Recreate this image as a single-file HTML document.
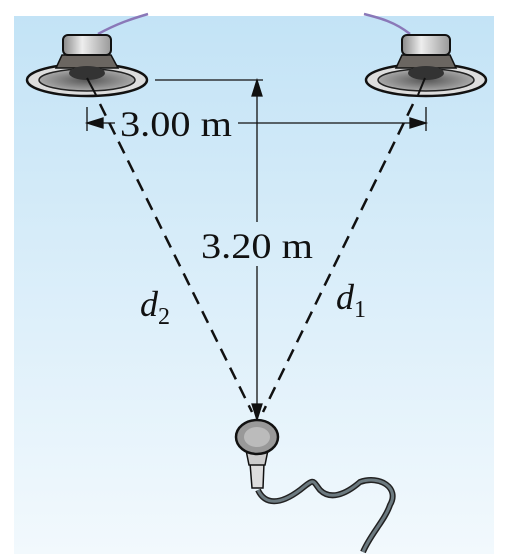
<!DOCTYPE html>
<html><head><meta charset="utf-8"><style>
html,body{margin:0;padding:0;background:#fff;width:514px;height:554px;overflow:hidden}
</style></head><body>
<svg width="514" height="554" viewBox="0 0 514 554" font-family="Liberation Serif, serif">
<defs>
<linearGradient id="bg" x1="0" y1="0" x2="0" y2="1"><stop offset="0" stop-color="#c3e3f6"/><stop offset="1" stop-color="#f2f9fd"/></linearGradient>
<linearGradient id="cap" x1="0" y1="0" x2="1" y2="0"><stop offset="0" stop-color="#888"/><stop offset="0.4" stop-color="#eee"/><stop offset="1" stop-color="#999"/></linearGradient>
<radialGradient id="cone"><stop offset="0" stop-color="#555"/><stop offset="1" stop-color="#a9a9a9"/></radialGradient>
</defs>
<rect x="14" y="16" width="480" height="538" fill="url(#bg)"/>
<g>
<path d="M98 34 C120 22 135 18 148 14" stroke="#8a78b8" stroke-width="2.5" fill="none"/>
<ellipse cx="87" cy="80" rx="60" ry="16" fill="#ddd" stroke="#111" stroke-width="2.5"/>
<ellipse cx="87" cy="80" rx="48" ry="11" fill="url(#cone)" stroke="#222" stroke-width="1.5"/>
<path d="M62 55 L56 68 L118 68 L111 55 Z" fill="#6b6661" stroke="#111" stroke-width="1.5"/>
<rect x="63" y="35" width="48" height="20" rx="5" fill="url(#cap)" stroke="#111" stroke-width="2"/>
<ellipse cx="87" cy="73" rx="18" ry="7" fill="#333"/>
<line x1="87" y1="78" x2="96" y2="95" stroke="#111" stroke-width="2"/>
</g>
<g>
<path d="M410 34 C395 22 380 18 364 14" stroke="#8a78b8" stroke-width="2.5" fill="none"/>
<ellipse cx="426" cy="80" rx="60" ry="16" fill="#ddd" stroke="#111" stroke-width="2.5"/>
<ellipse cx="426" cy="80" rx="48" ry="11" fill="url(#cone)" stroke="#222" stroke-width="1.5"/>
<path d="M402 55 L396 68 L456 68 L450 55 Z" fill="#6b6661" stroke="#111" stroke-width="1.5"/>
<rect x="402" y="35" width="48" height="20" rx="5" fill="url(#cap)" stroke="#111" stroke-width="2"/>
<ellipse cx="426" cy="73" rx="18" ry="7" fill="#333"/>
<line x1="425" y1="78" x2="418" y2="95" stroke="#111" stroke-width="2"/>
</g>
<g stroke="#111" stroke-width="2.5" stroke-dasharray="13 8" fill="none">
<line x1="100" y1="104" x2="252" y2="412"/>
<line x1="413" y1="104" x2="263" y2="412"/>
</g>
<g stroke="#111" stroke-width="1.3" fill="#111">
<line x1="155" y1="80" x2="263" y2="80"/>
<line x1="257" y1="88" x2="257" y2="222"/>
<line x1="257" y1="266" x2="257" y2="410"/>
<path d="M257 80 L252 96 L262 96 Z"/>
<path d="M257 420 L252 404 L262 404 Z"/>
</g>
<g stroke="#111" stroke-width="1.3" fill="#111">
<line x1="87" y1="107" x2="87" y2="131"/>
<line x1="426" y1="107" x2="426" y2="131"/>
<line x1="87" y1="123" x2="115" y2="123"/>
<line x1="238" y1="123" x2="426" y2="123"/>
<path d="M87 123 L103 118 L103 128 Z"/>
<path d="M426 123 L410 118 L410 128 Z"/>
</g>
<text x="120" y="136" font-size="36" fill="#111" textLength="112" lengthAdjust="spacingAndGlyphs">3.00 m</text>
<text x="257" y="258" font-size="36" fill="#111" text-anchor="middle" textLength="112" lengthAdjust="spacingAndGlyphs">3.20 m</text>
<text x="140" y="316" font-size="36" font-style="italic" fill="#111">d<tspan font-size="24" font-style="normal" dy="8">2</tspan></text>
<text x="336" y="309" font-size="36" font-style="italic" fill="#111">d<tspan font-size="24" font-style="normal" dy="8">1</tspan></text>
<g>
<path d="M258 490 C265 505 280 505 300 490 C315 478 312 480 320 490 C330 500 345 495 360 482 C380 475 400 488 390 505 C385 520 370 535 363 552" stroke="#222" stroke-width="6" fill="none"/>
<path d="M258 490 C265 505 280 505 300 490 C315 478 312 480 320 490 C330 500 345 495 360 482 C380 475 400 488 390 505 C385 520 370 535 363 552" stroke="#6c7a80" stroke-width="3" fill="none"/>
<path d="M250 463 L264 463 L263 488 L252 488 Z" fill="#ddd" stroke="#111" stroke-width="1.5"/>
<path d="M246 450 L268 450 L265 465 L249 465 Z" fill="#ccc" stroke="#111" stroke-width="1.5"/>
<ellipse cx="257" cy="437" rx="21" ry="17" fill="#999" stroke="#111" stroke-width="2.5"/>
<ellipse cx="257" cy="437" rx="13" ry="10" fill="#bbb"/>
</g>
</svg>
</body></html>
